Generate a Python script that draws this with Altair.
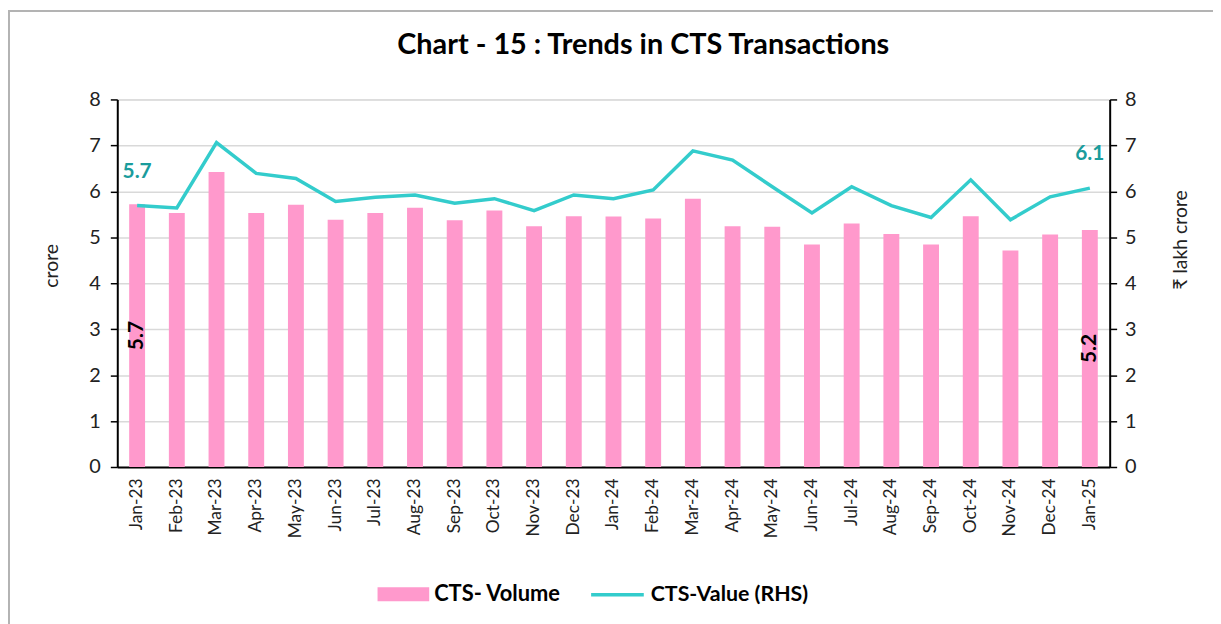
import altair as alt
import pandas as pd

months = ["Jan-23", "Feb-23", "Mar-23", "Apr-23", "May-23", "Jun-23", "Jul-23", "Aug-23",
          "Sep-23", "Oct-23", "Nov-23", "Dec-23", "Jan-24", "Feb-24", "Mar-24", "Apr-24",
          "May-24", "Jun-24", "Jul-24", "Aug-24", "Sep-24", "Oct-24", "Nov-24", "Dec-24", "Jan-25"]
volume = [5.72, 5.53, 6.42, 5.53, 5.71, 5.38, 5.53, 5.64, 5.37, 5.58, 5.24, 5.46, 5.45,
          5.41, 5.84, 5.24, 5.23, 4.84, 5.30, 5.07, 4.84, 5.46, 4.71, 5.06, 5.16]
value = [5.69, 5.64, 7.06, 6.39, 6.28, 5.78, 5.87, 5.92, 5.74, 5.84, 5.58, 5.92, 5.84,
         6.03, 6.88, 6.68, 6.10, 5.53, 6.10, 5.69, 5.43, 6.25, 5.38, 5.88, 6.07]
labelled = ["Jan-23", "Jan-25"]

df = pd.DataFrame({
    "month": months,
    "volume": volume,
    "value": value,
    "vol_series": "CTS- Volume",
    "val_series": "CTS-Value (RHS)",
})

FONT = "Lato"
PINK = "#ff99cc"
TEAL = "#33cccc"
TEAL_TXT = "#1a9c9c"

xenc = alt.X(
    "month:N", sort=months,
    scale=alt.Scale(paddingInner=0, paddingOuter=0),
    axis=alt.Axis(title=None, labelAngle=-90, labelFontSize=17.5, labelColor="#222222",
                  labelFont=FONT, domainColor="black", domainWidth=2, ticks=False,
                  labelPadding=11, grid=False),
)
ydom = alt.Scale(domain=[0, 8])

bars = alt.Chart(df).mark_bar(size=16).encode(
    x=xenc,
    y=alt.Y("volume:Q", scale=ydom,
            axis=alt.Axis(title="crore", orient="left", values=list(range(9)),
                          labelFontSize=20, labelFont=FONT, labelColor="#222222",
                          titleFont=FONT, titleFontSize=19.5, titleFontWeight="normal",
                          titleColor="#222222", titlePadding=28, titleY=167,
                          tickSize=7, tickColor="black", tickWidth=1.5,
                          domainColor="black", domainWidth=2,
                          grid=True, gridColor="#d9d9d9", gridWidth=1.5, labelPadding=10)),
    color=alt.Color("vol_series:N",
                    scale=alt.Scale(domain=["CTS- Volume"], range=[PINK]),
                    legend=alt.Legend(orient="none", legendX=262, legendY=472, title=None,
                                      symbolType="M-1,-0.27L1,-0.27L1,0.27L-1,0.27Z",
                                      symbolSize=2704, symbolStrokeWidth=0,
                                      labelFont=FONT, labelFontSize=22, labelFontWeight="bold",
                                      labelColor="black", labelOffset=5, padding=0)),
)

bar_labels = alt.Chart(df).transform_filter(
    alt.FieldOneOfPredicate(field="month", oneOf=labelled)
).transform_calculate(
    mid="datum.volume / 2"
).mark_text(angle=270, fontSize=21, fontWeight="bold", font=FONT, color="black",
            align="center", baseline="middle").encode(
    x=xenc,
    y=alt.Y("mid:Q", scale=ydom, axis=None),
    text=alt.Text("volume:Q", format=".1f"),
)

line = alt.Chart(df).mark_line(strokeWidth=3.5).encode(
    x=xenc,
    y=alt.Y("value:Q", scale=ydom,
            axis=alt.Axis(title="₹ lakh crore", orient="right", values=list(range(9)),
                          labelFontSize=20, labelFont=FONT, labelColor="#222222",
                          titleFont=FONT, titleFontSize=19.5, titleFontWeight="normal",
                          titleColor="#222222", titleAngle=270, titlePadding=55,
                          titleY=141,
                          tickSize=7, tickColor="black", tickWidth=1.5,
                          domainColor="black", domainWidth=2, grid=False, labelPadding=8)),
    stroke=alt.Stroke("val_series:N",
                      scale=alt.Scale(domain=["CTS-Value (RHS)"], range=[TEAL]),
                      legend=alt.Legend(orient="none", legendX=475, legendY=470, title=None,
                                        symbolType="stroke", symbolSize=2809,
                                        symbolStrokeWidth=3.5,
                                        labelFont=FONT, labelFontSize=21.5, labelFontWeight="bold",
                                        labelColor="black", labelOffset=5, padding=0)),
)

line_labels = alt.Chart(df).transform_filter(
    alt.FieldOneOfPredicate(field="month", oneOf=labelled)
).mark_text(fontSize=21, fontWeight="bold", font=FONT, color=TEAL_TXT,
            align="center", baseline="bottom", dy=-24).encode(
    x=xenc,
    y=alt.Y("value:Q", scale=ydom, axis=None),
    text=alt.Text("value:Q", format=".1f"),
)

frame_src = alt.Data(values=[{"k": 0}])
frame_left = alt.Chart(frame_src).mark_rule(color="#b3b3b3", strokeWidth=2).encode(
    x=alt.value(-109), y=alt.value(-89), y2=alt.value(560))
frame_top = alt.Chart(frame_src).mark_rule(color="#b3b3b3", strokeWidth=2).encode(
    x=alt.value(-110), x2=alt.value(1110), y=alt.value(-89))

chart = alt.layer(
    bars, bar_labels, line, line_labels, frame_left, frame_top
).resolve_scale(
    y="independent", color="independent", stroke="independent"
).properties(
    width=999, height=370,
    title=alt.TitleParams("Chart - 15 : Trends in CTS Transactions", font=FONT,
                          fontSize=29, fontWeight="bold", color="black",
                          anchor="middle", frame="group", dx=30, dy=84, offset=34),
    autosize=alt.AutoSizeParams(type="none"),
    padding={"left": 110, "top": 90, "right": 104, "bottom": 156},
).configure_view(stroke=None).configure(background="white")

chart.save("out.html", embed_options={"renderer": "svg", "actions": False})
